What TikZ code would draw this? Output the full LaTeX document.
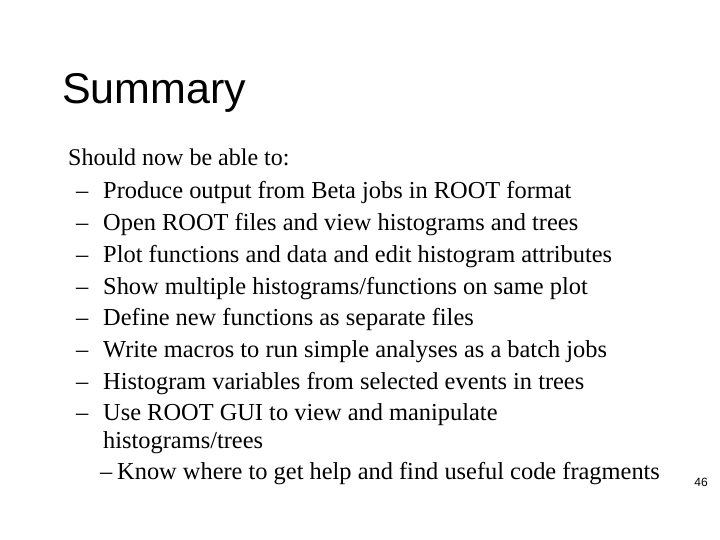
\documentclass[tikz,border=0pt]{standalone}
\usepackage{fontspec}
\setmainfont{Liberation Serif}
\newfontfamily\arial{Liberation Sans}
\begin{document}
\begin{tikzpicture}[x=1pt,y=-1pt,
  itm/.style={anchor=base west,inner sep=0pt,font=\fontsize{24.4}{28}\selectfont},
  dsh/.style={anchor=base west,inner sep=0pt,font=\fontsize{24.4}{28}\selectfont}]
\useasboundingbox (0,0) rectangle (720,540);
\node[anchor=base west,inner sep=0pt,font=\arial\fontsize{43}{48}\selectfont] (title) at (62,104) {Summary};
\node[anchor=base west,inner sep=0pt,font=\fontsize{24}{28}\selectfont] (intro) at (68,166) {Should now be able to:};
\foreach \t [count=\i] in {Produce output from Beta jobs in ROOT format,Open ROOT files and view histograms and trees,Plot functions and data and edit histogram attributes,Show multiple histograms/functions on same plot,Define new functions as separate files,Write macros to run simple analyses as a batch jobs,Histogram variables from selected events in trees,Use ROOT GUI to view and manipulate}{
  \node[dsh] (d\i) at (76,{199+(\i-1)*31.7}) {--};
  \node[itm] (t\i) at (103,{199+(\i-1)*31.7}) {\t};
}
\node[itm] (t9) at (103,448) {histograms/trees};
\node[dsh] (d10) at (100,479) {--};
\node[itm] (t10) at (117,479) {Know where to get help and find useful code fragments};
\node[anchor=base east,inner sep=0pt,font=\arial\fontsize{12}{14}\selectfont] (pg) at (708,486) {46};
\end{tikzpicture}
\end{document}
